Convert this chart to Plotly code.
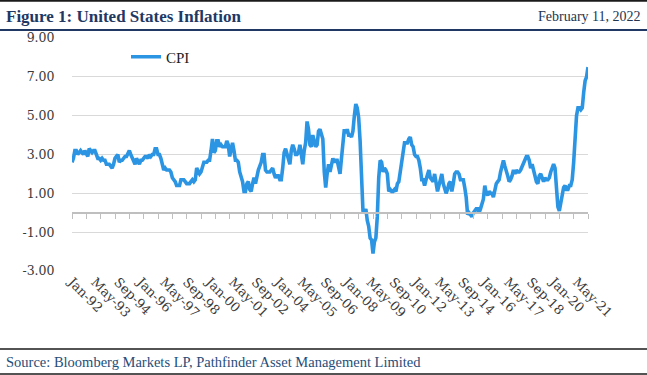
import pandas as pd
import plotly.graph_objects as go

# ---- data (US CPI, YoY %, monthly Jan-92 .. Jan-22) ----
cpi_1992 = [2.6, 2.8, 3.2, 3.2, 3.0, 3.1, 3.2, 3.1, 3.0, 3.2, 3.0, 2.9]
cpi_1993 = [3.3, 3.2, 3.1, 3.2, 3.2, 3.0, 2.8, 2.8, 2.7, 2.8, 2.7, 2.7]
cpi_1994 = [2.5, 2.5, 2.5, 2.4, 2.3, 2.5, 2.8, 2.9, 3.0, 2.6, 2.7, 2.7]
cpi_1995 = [2.8, 2.9, 2.9, 3.1, 3.2, 3.0, 2.8, 2.6, 2.5, 2.8, 2.6, 2.5]
cpi_1996 = [2.7, 2.7, 2.8, 2.9, 2.9, 2.8, 3.0, 2.9, 3.0, 3.0, 3.3, 3.3]
cpi_1997 = [3.0, 3.0, 2.8, 2.5, 2.2, 2.3, 2.2, 2.2, 2.2, 2.1, 1.8, 1.7]
cpi_1998 = [1.6, 1.4, 1.4, 1.4, 1.7, 1.7, 1.7, 1.6, 1.5, 1.5, 1.5, 1.6]
cpi_1999 = [1.7, 1.6, 1.7, 2.3, 2.1, 2.0, 2.1, 2.3, 2.6, 2.6, 2.6, 2.7]
cpi_2000 = [2.7, 3.2, 3.8, 3.1, 3.2, 3.7, 3.7, 3.4, 3.5, 3.4, 3.4, 3.4]
cpi_2001 = [3.7, 3.5, 2.9, 3.3, 3.6, 3.2, 2.7, 2.7, 2.6, 2.1, 1.9, 1.6]
cpi_2002 = [1.1, 1.1, 1.5, 1.6, 1.2, 1.1, 1.5, 1.8, 1.5, 2.0, 2.2, 2.4]
cpi_2003 = [2.6, 3.0, 3.0, 2.2, 2.1, 2.1, 2.1, 2.2, 2.3, 2.0, 1.8, 1.9]
cpi_2004 = [1.9, 1.7, 1.7, 2.3, 3.1, 3.3, 3.0, 2.7, 2.5, 3.2, 3.5, 3.3]
cpi_2005 = [3.0, 3.0, 3.1, 3.5, 2.8, 2.5, 3.2, 3.6, 4.7, 4.3, 3.5, 3.4]
cpi_2006 = [4.0, 3.6, 3.4, 3.5, 4.2, 4.3, 4.1, 3.8, 2.1, 1.3, 2.0, 2.5]
cpi_2007 = [2.1, 2.4, 2.8, 2.6, 2.7, 2.7, 2.4, 2.0, 2.8, 3.5, 4.3, 4.1]
cpi_2008 = [4.3, 4.0, 4.0, 3.9, 4.2, 5.0, 5.6, 5.4, 4.9, 3.7, 1.1, 0.1]
cpi_2009 = [0.0, 0.2, -0.4, -0.7, -1.3, -1.4, -2.1, -1.5, -1.3, -0.2, 1.8, 2.7]
cpi_2010 = [2.6, 2.1, 2.3, 2.2, 2.0, 1.1, 1.2, 1.1, 1.1, 1.2, 1.1, 1.5]
cpi_2011 = [1.6, 2.1, 2.7, 3.2, 3.6, 3.6, 3.6, 3.8, 3.9, 3.5, 3.4, 3.0]
cpi_2012 = [2.9, 2.9, 2.7, 2.3, 1.7, 1.7, 1.4, 1.7, 2.0, 2.2, 1.8, 1.7]
cpi_2013 = [1.6, 2.0, 1.5, 1.1, 1.4, 1.8, 2.0, 1.5, 1.2, 1.0, 1.2, 1.5]
cpi_2014 = [1.6, 1.1, 1.5, 2.0, 2.1, 2.1, 2.0, 1.7, 1.7, 1.7, 1.3, 0.8]
cpi_2015 = [-0.1, 0.0, -0.1, -0.2, 0.0, 0.1, 0.2, 0.2, 0.0, 0.2, 0.5, 0.7]
cpi_2016 = [1.4, 1.0, 0.9, 1.1, 1.0, 1.0, 0.8, 1.1, 1.5, 1.6, 1.7, 2.1]
cpi_2017 = [2.5, 2.7, 2.4, 2.2, 1.9, 1.6, 1.7, 1.9, 2.2, 2.0, 2.2, 2.1]
cpi_2018 = [2.1, 2.2, 2.4, 2.5, 2.8, 2.9, 2.9, 2.7, 2.3, 2.5, 2.2, 1.9]
cpi_2019 = [1.6, 1.5, 1.9, 2.0, 1.8, 1.6, 1.8, 1.7, 1.7, 1.8, 2.1, 2.3]
cpi_2020 = [2.5, 2.3, 1.5, 0.3, 0.1, 0.6, 1.0, 1.3, 1.4, 1.2, 1.2, 1.4]
cpi_2021 = [1.4, 1.7, 2.6, 4.2, 5.0, 5.4, 5.4, 5.3, 5.4, 6.2, 6.8, 7.0]
cpi_2022 = [7.5]

cpi = (cpi_1992 + cpi_1993 + cpi_1994 + cpi_1995 + cpi_1996 + cpi_1997 +
       cpi_1998 + cpi_1999 + cpi_2000 + cpi_2001 + cpi_2002 + cpi_2003 +
       cpi_2004 + cpi_2005 + cpi_2006 + cpi_2007 + cpi_2008 + cpi_2009 +
       cpi_2010 + cpi_2011 + cpi_2012 + cpi_2013 + cpi_2014 + cpi_2015 +
       cpi_2016 + cpi_2017 + cpi_2018 + cpi_2019 + cpi_2020 + cpi_2021 +
       cpi_2022)

months = [d.strftime('%b-%y') for d in pd.date_range('1992-01-01', periods=len(cpi), freq='MS')]

x_tick_labels = ['Jan-92', 'May-93', 'Sep-94', 'Jan-96', 'May-97', 'Sep-98',
                 'Jan-00', 'May-01', 'Sep-02', 'Jan-04', 'May-05', 'Sep-06',
                 'Jan-08', 'May-09', 'Sep-10', 'Jan-12', 'May-13', 'Sep-14',
                 'Jan-16', 'May-17', 'Sep-18', 'Jan-20', 'May-21']
y_tick_vals = [-3, -1, 1, 3, 5, 7, 9]
y_tick_text = ['-3.00', '-1.00', '1.00', '3.00', '5.00', '7.00', '9.00']

# ---- layout geometry ----
W, H = 647, 375
L, R, T, B = 72, 588, 38, 271


def xp(px):
    return (px - L) / (R - L)


def yp(py):
    return (B - py) / (B - T)


LINE = '#2b95e3'
NAVY = '#1f3864'
TXT = '#3a3a3a'

fig = go.Figure()
fig.add_trace(go.Scatter(x=months, y=cpi, mode='lines', name='CPI',
                         line=dict(color=LINE, width=3.6)))
# helper trace to draw the zero axis with category tick marks
fig.add_trace(go.Scatter(x=months, y=cpi, mode='lines', xaxis='x2',
                         opacity=0, showlegend=False, hoverinfo='skip',
                         line=dict(width=0)))

ymin, ymax = -3, 9
zero_pos = (0 - ymin) / (ymax - ymin)

fig.update_layout(
    width=W, height=H,
    margin=dict(l=L, r=W - R, t=T, b=H - B),
    paper_bgcolor='white', plot_bgcolor='white',
    font=dict(family='DejaVu Serif', color=TXT),
    showlegend=True,
    legend=dict(x=xp(126), y=yp(57), xanchor='left', yanchor='middle',
                bgcolor='rgba(0,0,0,0)', font=dict(family='Liberation Serif', size=15, color='#222')),
    xaxis=dict(type='category', range=[0, len(cpi) - 1],
               tickmode='array', tickvals=x_tick_labels, ticktext=x_tick_labels,
               tickangle=45, ticks='', showgrid=False, showline=False,
               zeroline=False, tickfont=dict(family='DejaVu Serif', size=13, color=TXT)),
    xaxis2=dict(type='category', overlaying='x', anchor='free', position=zero_pos,
                range=[0, len(cpi) - 1], side='bottom',
                tickmode='array', tickvals=months[::10], showticklabels=False,
                ticks='outside', ticklen=5, tickwidth=1, tickcolor='#bfbfbf',
                showline=True, linecolor='#bfbfbf', linewidth=2,
                showgrid=False, zeroline=False),
    yaxis=dict(range=[ymin, ymax], tickmode='array', tickvals=y_tick_vals,
               ticktext=y_tick_text, showgrid=True, gridcolor='#d9d9d9', gridwidth=1,
               zeroline=False, showline=False, ticks='outside', ticklen=14,
               tickcolor='rgba(0,0,0,0)',
               tickfont=dict(family='DejaVu Serif', size=12.5, color=TXT)),
)

shapes = []
for py, w, c in [(0.8, 2, '#1a1a1a'), (30, 2, NAVY), (349, 1.5, '#1a1a1a'), (374, 1.5, '#1a1a1a')]:
    shapes.append(dict(type='line', xref='paper', yref='paper',
                       x0=xp(0), x1=xp(W), y0=yp(py), y1=yp(py),
                       line=dict(color=c, width=w)))
fig.update_layout(shapes=shapes)

fig.add_annotation(text='<b>Figure 1: United States Inflation</b>', xref='paper', yref='paper',
                   x=xp(4), y=yp(16), xanchor='left', yanchor='middle', showarrow=False,
                   font=dict(family='Liberation Serif', size=17, color=NAVY))
fig.add_annotation(text='February 11, 2022', xref='paper', yref='paper',
                   x=xp(643), y=yp(16), xanchor='right', yanchor='middle', showarrow=False,
                   font=dict(family='Liberation Serif', size=14, color='#24344f'))
fig.add_annotation(text='Source: Bloomberg Markets LP, Pathfinder Asset Management Limited',
                   xref='paper', yref='paper', x=xp(4), y=yp(362), xanchor='left',
                   yanchor='middle', showarrow=False,
                   font=dict(family='Liberation Serif', size=14.5, color='#1f4e79'))

fig.write_html('out.html', config={'displayModeBar': False},
               post_script="document.body.style.margin='0';")
